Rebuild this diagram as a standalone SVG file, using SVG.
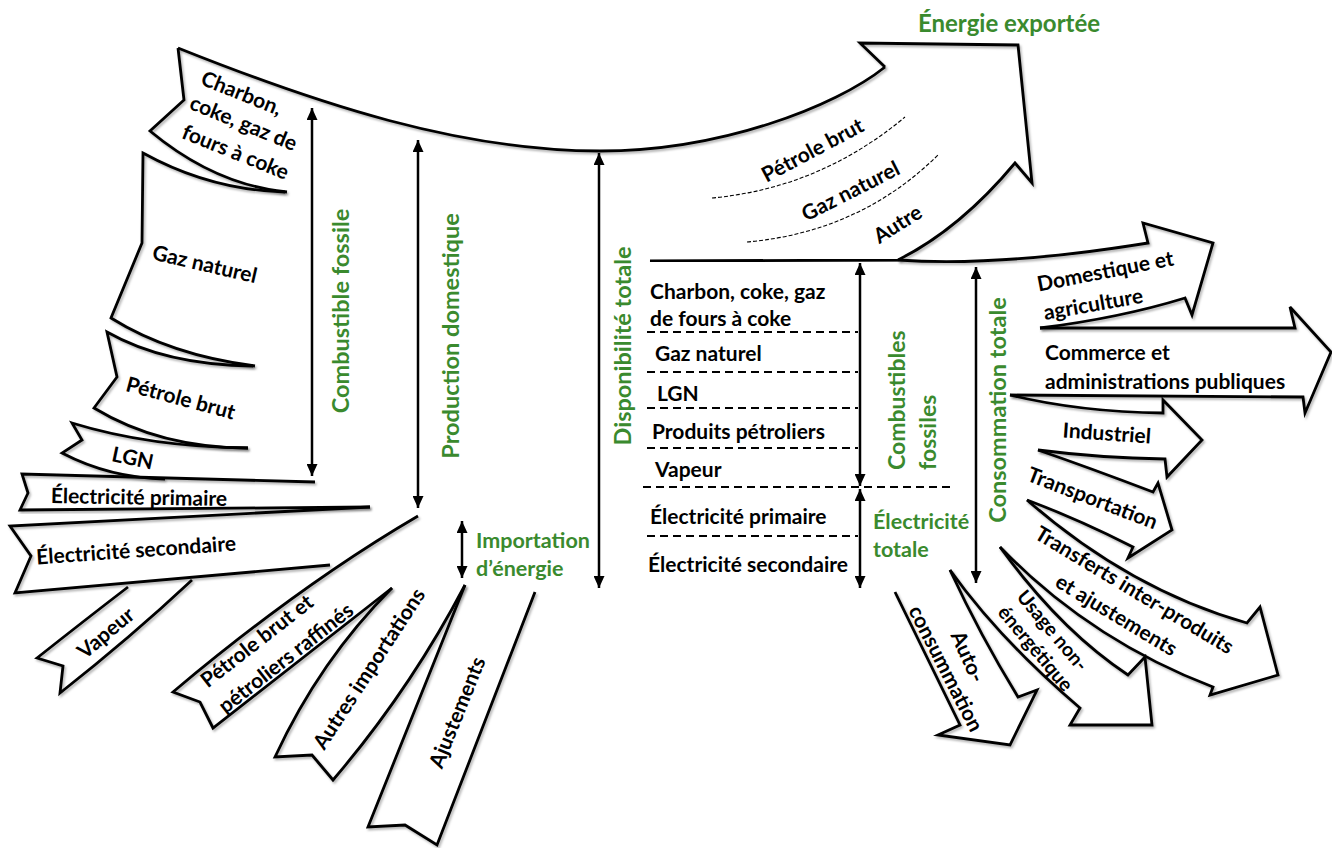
<svg xmlns="http://www.w3.org/2000/svg" width="1332" height="848" viewBox="0 0 1332 848">
<defs>
<filter id="sh" x="-10%" y="-10%" width="120%" height="120%"><feDropShadow dx="1.5" dy="2" stdDeviation="1.2" flood-color="#000" flood-opacity="0.3"/></filter>
<marker id="ah" markerUnits="userSpaceOnUse" markerWidth="13" markerHeight="11" refX="12" refY="5.5" orient="auto-start-reverse"><path d="M0,0 L12,5.5 L0,11 z" fill="#000"/></marker>
<style>
.ol{fill:none;stroke:#000;stroke-width:2.8;stroke-linejoin:miter;filter:url(#sh)}
.dim{stroke:#000;stroke-width:2.5;marker-start:url(#ah);marker-end:url(#ah)}
.dash{fill:none;stroke:#000;stroke-width:1.8;stroke-dasharray:8 5}
.dash2{fill:none;stroke:#000;stroke-width:1.1;stroke-dasharray:4 2}
.t{font-family:Lato,"Open Sans","Liberation Sans",sans-serif;font-weight:bold;font-size:21px;fill:#000}
.c{text-anchor:middle;dominant-baseline:central}
.s{dominant-baseline:central}
.g{font-family:Lato,"Open Sans","Liberation Sans",sans-serif;font-weight:bold;font-size:23.5px;fill:#3a8a2e}
</style>
</defs>
<rect width="1332" height="848" fill="#fff"/>

<g id="connectors">
<path class="ol" d="M178,48 C318,104 460,151 600,151 C720,151 835,107 885,67"/>
<path class="ol" d="M650,261 L898,260"/>
<path class="ol" d="M495,516 L418,516"/>
<path class="ol" d="M895,592 L535,592"/>
<line class="dim" x1="312" y1="108" x2="312" y2="476"/>
<line class="dim" x1="418" y1="140" x2="418" y2="508"/>
<line class="dim" x1="462" y1="521" x2="462" y2="578"/>
<line class="dim" x1="599" y1="153" x2="599" y2="588"/>
<line class="dim" x1="860" y1="263" x2="860" y2="486"/>
<line class="dim" x1="860" y1="489" x2="860" y2="588"/>
<line class="dim" x1="976" y1="267" x2="976" y2="583"/>
</g>

<g id="charbon">
<path class="ol" d="M287,192 Q215,185 150,131 L184,100 L178,48"/>
<text class="t c" transform="translate(242,92) rotate(22)">Charbon,</text>
<text class="t c" transform="translate(244,122) rotate(22)">coke, gaz de</text>
<text class="t c" transform="translate(236,151) rotate(22)">fours à coke</text>
</g>
<g id="gaz-naturel">
<path class="ol" d="M255,366 Q170,355 111,318 L142,243 L143,153 Q210,190 285,192"/>
<text class="t c" transform="translate(205,263) rotate(13)">Gaz naturel</text>
</g>
<g id="petrole-brut">
<path class="ol" d="M248,448 Q160,448 94,408 L117,377 L107,332 Q165,365 253,366"/>
<text class="t c" transform="translate(181,397) rotate(15)">Pétrole brut</text>
</g>
<g id="lgn">
<path class="ol" d="M165,479 Q110,478 62,453 L82,440 L72,423 Q150,447 248,448"/>
<text class="t c" transform="translate(133,457) rotate(12)">LGN</text>
</g>
<g id="elec-primaire">
<path class="ol" d="M315,482 L22,474 L28,493 L20,510 L370,507"/>
<text class="t c" transform="translate(139,496) rotate(1)">Électricité primaire</text>
</g>
<g id="elec-secondaire">
<path class="ol" d="M370,507 L10,526 L31,556 L15,593 L330,565"/>
<text class="t c" transform="translate(136,549) rotate(-4)">Électricité secondaire</text>
</g>
<g id="vapeur">
<path class="ol" d="M128,587 Q85,620 37,658 L63,666 L60,693 Q130,638 192,580"/>
<text class="t c" transform="translate(105,632) rotate(-40)">Vapeur</text>
</g>
<g id="petrole-raffines">
<path class="ol" d="M418,516 Q300,585 173,692 L200,702 L213,728 Q300,660 392,588"/>
<text class="t c" transform="translate(256,640) rotate(-38)">Pétrole brut et</text>
<text class="t c" transform="translate(285,657) rotate(-38)">pétroliers raffinés</text>
</g>
<g id="autres-importations">
<path class="ol" d="M392,588 Q320,660 275,757 L312,755 L333,780 Q410,690 465,585"/>
<text class="t c" transform="translate(368,668) rotate(-57)">Autres importations</text>
</g>
<g id="ajustements">
<path class="ol" d="M465,585 L368,827 L405,825 L437,845 L535,592"/>
<text class="t c" transform="translate(456,712) rotate(-68)">Ajustements</text>
</g>

<g id="energie-exportee">
<path class="ol" d="M885,67 L860,43 L1018,45 L1032,183 L1015,163 Q960,229 898,260"/>
<path class="dash2" d="M712,198 Q820,188 905,117"/>
<path class="dash2" d="M747,242 Q860,232 938,155"/>
<text class="t c" transform="translate(812,149) rotate(-28)">Pétrole brut</text>
<text class="t c" transform="translate(850,190) rotate(-27)">Gaz naturel</text>
<text class="t c" transform="translate(897,223) rotate(-32)">Autre</text>
<text class="g" x="1009" y="22" text-anchor="middle" dominant-baseline="central" style="font-size:24px">Énergie exportée</text>
</g>

<g id="disponibilite">
<text class="t s" x="650" y="290">Charbon, coke, gaz</text>
<text class="t s" x="650" y="317">de fours à coke</text>
<line class="dash" x1="647" y1="332" x2="858" y2="332"/>
<text class="t s" x="655" y="352">Gaz naturel</text>
<line class="dash" x1="647" y1="372" x2="858" y2="372"/>
<text class="t s" x="657" y="392">LGN</text>
<line class="dash" x1="647" y1="408" x2="858" y2="408"/>
<text class="t s" x="652" y="430">Produits pétroliers</text>
<line class="dash" x1="647" y1="448" x2="858" y2="448"/>
<text class="t s" x="655" y="468">Vapeur</text>
<line class="dash" x1="643" y1="487" x2="953" y2="487"/>
<text class="t s" x="650" y="515">Électricité primaire</text>
<line class="dash" x1="647" y1="536" x2="858" y2="536"/>
<text class="t s" x="648" y="563">Électricité secondaire</text>
</g>

<g id="domestique">
<path class="ol" d="M898,260 Q1000,267 1148,243 L1143,223 L1213,243 L1192,315 L1185,298 Q1120,318 1040,328"/>
<text class="t c" transform="translate(1105,270) rotate(-11)">Domestique et</text>
<text class="t c" transform="translate(1093,303) rotate(-10)">agriculture</text>
</g>
<g id="commerce">
<path class="ol" d="M1040,328 L1295,328 L1290,307 L1331,352 L1305,413 L1303,397 L1010,395"/>
<text class="t s" x="1045" y="351">Commerce et</text>
<text class="t s" x="1045" y="380">administrations publiques</text>
</g>
<g id="industriel">
<path class="ol" d="M1010,395 Q1080,412 1163,413 L1163,400 L1202,440 L1167,477 L1165,459 Q1100,458 1038,450"/>
<text class="t c" transform="translate(1107,432) rotate(4)">Industriel</text>
</g>
<g id="transportation">
<path class="ol" d="M1038,450 Q1090,468 1153,492 L1158,483 L1172,530 L1128,558 L1133,547 Q1080,520 1027,500"/>
<text class="t c" transform="translate(1093,497) rotate(21)">Transportation</text>
</g>
<g id="transferts">
<path class="ol" d="M1027,500 Q1130,590 1247,623 L1260,607 L1278,675 L1210,695 L1213,687 Q1090,640 1000,547"/>
<text class="t c" transform="translate(1135,589) rotate(31)">Transferts inter-produits</text>
<text class="t c" transform="translate(1117,614) rotate(31)">et ajustements</text>
</g>
<g id="usage">
<path class="ol" d="M1000,547 Q1060,630 1128,675 L1145,657 L1152,725 L1070,725 L1080,708 Q1000,640 950,570"/>
<text class="t c" transform="translate(1053,630) rotate(50)" style="font-size:19.5px">Usage non-</text>
<text class="t c" transform="translate(1036,648) rotate(50)" style="font-size:19.5px">énergétique</text>
</g>
<g id="autoconsommation">
<path class="ol" d="M950,570 Q980,635 1018,697 L1037,690 L1010,745 L938,735 L960,725 L895,592"/>
<text class="t c" transform="translate(969,656) rotate(66)">Auto-</text>
<text class="t c" transform="translate(947,668) rotate(63)">consummation</text>
</g>

<g id="labels">
<text class="g c" transform="translate(340,311) rotate(-90)">Combustible fossile</text>
<text class="g c" transform="translate(450,336) rotate(-90)">Production domestique</text>
<text class="g s" x="476" y="540" style="font-size:21.5px">Importation</text>
<text class="g s" x="476" y="568" style="font-size:21.5px">d’énergie</text>
<text class="g c" transform="translate(622,346) rotate(-90)">Disponibilité totale</text>
<text class="g s" transform="translate(896,470) rotate(-90)" style="font-size:23px">Combustibles</text>
<text class="g s" transform="translate(927,470) rotate(-90)" style="font-size:23px">fossiles</text>
<text class="g s" x="873" y="521" style="font-size:21.5px">Électricité</text>
<text class="g s" x="873" y="549" style="font-size:21.5px">totale</text>
<text class="g c" transform="translate(997,410) rotate(-90)">Consommation totale</text>
</g>
</svg>
